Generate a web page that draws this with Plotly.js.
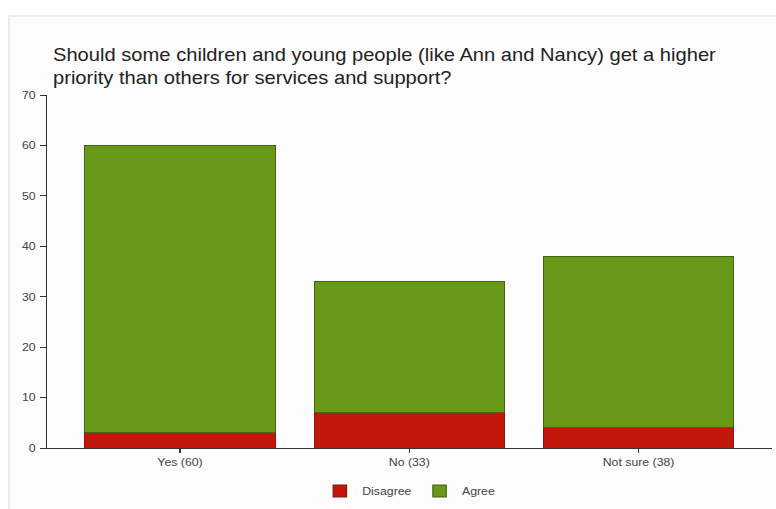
<!DOCTYPE html>
<html>
<head>
<meta charset="utf-8">
<script src="https://cdn.plot.ly/plotly-3.0.1.min.js"></script>
<style>
html,body{margin:0;padding:0;background:#fff;overflow:hidden;}
#card{position:absolute;left:8px;top:15px;width:768px;height:494px;background:#fcfcfc;border-left:2px solid #ececec;border-top:2px solid #ececec;box-sizing:border-box;}
#chart{position:absolute;left:0;top:0;width:693px;height:509px;transform:scaleX(1.1198);transform-origin:0 0;}
</style>
</head>
<body>
<div id="card"></div>
<div id="chart"></div>
<script>
const categories = ["Yes (60)", "No (33)", "Not sure (38)"];
const disagree = [3, 7, 4];
const agree = [57, 26, 34];
const seriesNames = ["Disagree", "Agree"];
const titleText = "Should some children and young people (like Ann and Nancy) get a higher<br>priority than others for services and support?";

const S = 776/693;
const W = 693;
const traces = [
  {type:'bar', name:seriesNames[0], x:categories, y:disagree,
   marker:{color:'#c2170a', line:{color:'#7e1a10', width:1}}, width:0.83},
  {type:'bar', name:seriesNames[1], x:categories, y:agree,
   marker:{color:'#689818', line:{color:'#44620f', width:1}}, width:0.83}
];
const fam = '"Liberation Sans", Arial, sans-serif';
const tickFont = {family:fam, size:11, color:'#444'};
const layout = {
  width:W, height:509,
  barmode:'stack',
  paper_bgcolor:'rgba(0,0,0,0)',
  plot_bgcolor:'rgba(0,0,0,0)',
  margin:{l:47/S, r:4/S, t:95, b:61},
  title:{text:titleText, x:(53/S)/W, xanchor:'left', xref:'container', y:1-61/509, yanchor:'top', yref:'container',
         font:{family:fam, size:18, color:'#222'}},
  xaxis:{range:[-0.58, 2.58], showline:true, linecolor:'#333', linewidth:1, ticks:'outside', ticklen:4, tickcolor:'#333',
         showgrid:false, zeroline:false, tickfont:tickFont},
  yaxis:{range:[0,70], dtick:10, showline:true, linecolor:'#333', linewidth:1, ticks:'outside', ticklen:5, tickcolor:'#333',
         showgrid:false, zeroline:false, tickfont:tickFont, ticklabelstandoff:2},
  legend:{orientation:'h', x:0.5, xanchor:'center', y:-0.122, yanchor:'middle', traceorder:'normal',
          font:{family:fam, size:11, color:'#444'}, bgcolor:'rgba(0,0,0,0)'},
  showlegend:true
};
Plotly.newPlot('chart', traces, layout, {displayModeBar:false, staticPlot:true});
</script>
</body>
</html>
